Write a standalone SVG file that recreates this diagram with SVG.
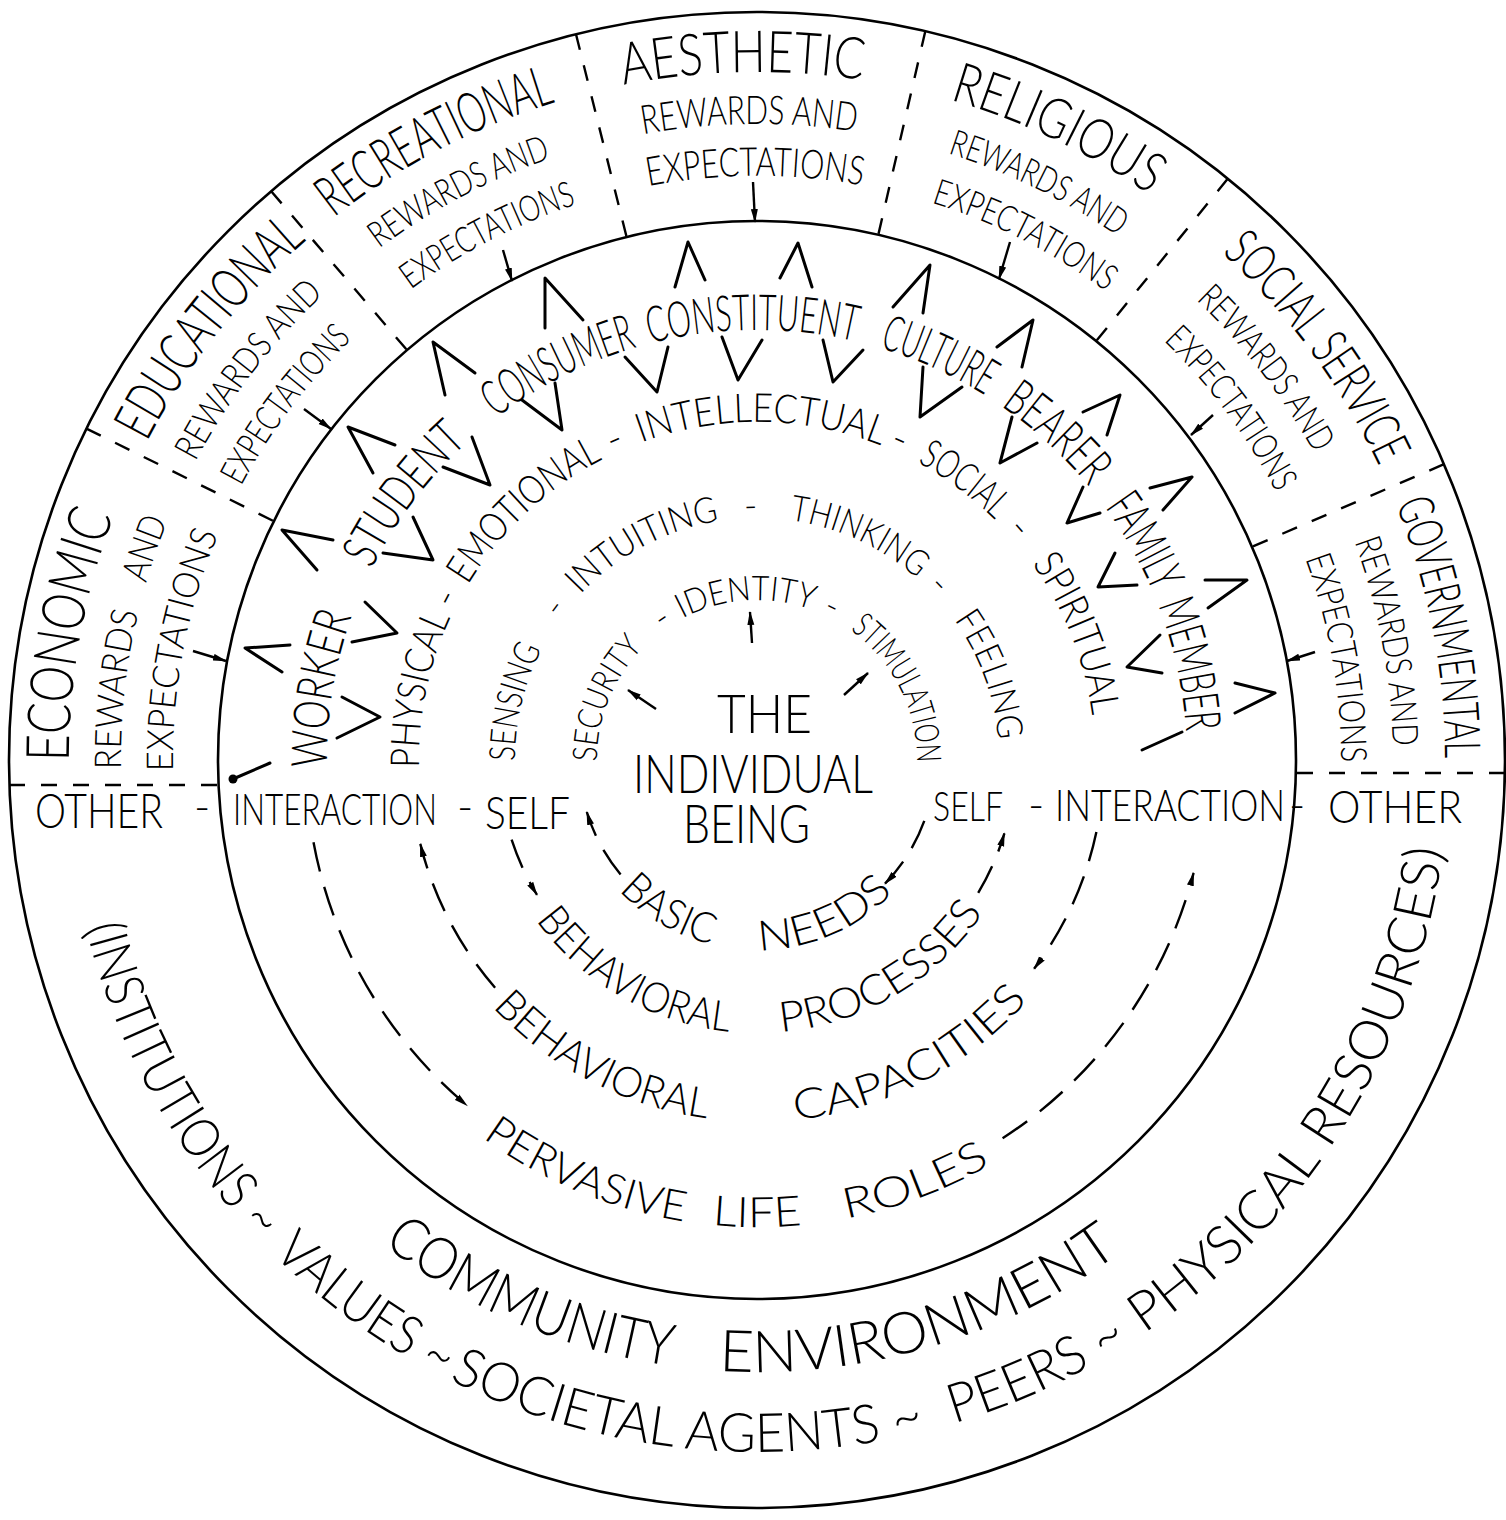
<svg xmlns="http://www.w3.org/2000/svg" width="1506" height="1520" viewBox="0 0 1506 1520">
<style>
.t{font-family:Lato,"Liberation Sans",Arial,sans-serif;font-weight:300;fill:#000}
.c{fill:none;stroke:#000;stroke-width:2.6}
.d{fill:none;stroke:#000;stroke-width:2.4;stroke-dasharray:16 16}
.da{fill:none;stroke:#000;stroke-width:2.4;stroke-dasharray:30 16;marker-end:url(#ah)}
.ch{fill:none;stroke:#000;stroke-width:3;stroke-linecap:round;stroke-linejoin:round}
.ar{fill:none;stroke:#000;stroke-width:2.4;marker-end:url(#ah)}
</style>
<defs>
<marker id="ah" viewBox="0 0 14 8" refX="13" refY="4" markerWidth="14" markerHeight="8" markerUnits="userSpaceOnUse" orient="auto"><path d="M0,0.5 L14,4 L0,7.5 z" fill="#000"/></marker>
<path id="t688" d="M161.2 1104 A688 688 0 1 1 1352.8 1104"/>
<path id="t636" d="M206.2 1078 A636 636 0 1 1 1307.8 1078"/>
<path id="t584" d="M251.3 1052 A584 584 0 1 1 1262.7 1052"/>
<path id="t430" d="M384.6 975 A430 430 0 1 1 1129.4 975"/>
<path id="t338" d="M464.3 929 A338 338 0 1 1 1049.7 929"/>
<path id="t242" d="M547.4 881 A242 242 0 1 1 966.6 881"/>
<path id="t160" d="M618.4 840 A160 160 0 1 1 895.6 840"/>
<path id="b190" d="M578.5 695 A190 190 0 1 0 935.5 695"/>
<path id="b273" d="M500.5 666.6 A273 273 0 1 0 1013.5 666.6"/>
<path id="b362" d="M416.8 636.2 A362 362 0 1 0 1097.2 636.2"/>
<path id="b467" d="M318.2 600.3 A467 467 0 1 0 1195.8 600.3"/>
<path id="b612" d="M181.9 550.7 A612 612 0 1 0 1332.1 550.7"/>
<path id="b692" d="M106.7 523.3 A692 692 0 1 0 1407.3 523.3"/>
</defs>

<g id="frame">
<circle class="c" cx="757" cy="760" r="748"/>
<circle class="c" cx="757" cy="760" r="539"/>
<line class="d" x1="9" y1="785" x2="218" y2="785"/>
<line class="d" x1="1505" y1="773" x2="1296" y2="773"/>
<line class="d" x1="86.4" y1="428.6" x2="273.8" y2="521.2"/>
<line class="d" x1="271.2" y1="191.2" x2="407" y2="350.1"/>
<line class="d" x1="576" y1="34.2" x2="626.6" y2="237"/>
<line class="d" x1="925.3" y1="31.2" x2="878.3" y2="234.8"/>
<line class="d" x1="1227.7" y1="178.7" x2="1096.2" y2="341.1"/>
<line class="d" x1="1444" y1="464.2" x2="1252" y2="546.8"/>
</g>

<g id="sector-economic" class="t">
<text font-size="60" text-anchor="middle"><textPath href="#t688" startOffset="483.9" textLength="250" lengthAdjust="spacingAndGlyphs">ECONOMIC</textPath></text>
<text font-size="37" text-anchor="middle"><textPath href="#t636" startOffset="402.9" textLength="158" lengthAdjust="spacingAndGlyphs">REWARDS</textPath></text>
<text font-size="37" text-anchor="middle"><textPath href="#t636" startOffset="545" textLength="66" lengthAdjust="spacingAndGlyphs">AND</textPath></text>
<text font-size="37" text-anchor="middle"><textPath href="#t584" startOffset="415.9" textLength="243" lengthAdjust="spacingAndGlyphs">EXPECTATIONS</textPath></text>
</g>
<g id="sector-educational" class="t">
<text font-size="56" text-anchor="middle"><textPath href="#t688" startOffset="820.1" textLength="259" lengthAdjust="spacingAndGlyphs">EDUCATIONAL</textPath></text>
<text font-size="36" text-anchor="middle"><textPath href="#t636" startOffset="749.3" textLength="212" lengthAdjust="spacingAndGlyphs">REWARDS AND</textPath></text>
<text font-size="36" text-anchor="middle"><textPath href="#t584" startOffset="682.9" textLength="185" lengthAdjust="spacingAndGlyphs">EXPECTATIONS</textPath></text>
</g>
<g id="sector-recreational" class="t">
<text font-size="56" text-anchor="middle"><textPath href="#t688" startOffset="1110.7" textLength="251" lengthAdjust="spacingAndGlyphs">RECREATIONAL</textPath></text>
<text font-size="36" text-anchor="middle"><textPath href="#t636" startOffset="1024.5" textLength="195" lengthAdjust="spacingAndGlyphs">REWARDS AND</textPath></text>
<text font-size="36" text-anchor="middle"><textPath href="#t584" startOffset="945.9" textLength="187" lengthAdjust="spacingAndGlyphs">EXPECTATIONS</textPath></text>
</g>
<g id="sector-aesthetic" class="t">
<text font-size="58" text-anchor="middle"><textPath href="#t688" startOffset="1426.5" textLength="240" lengthAdjust="spacingAndGlyphs">AESTHETIC</textPath></text>
<text font-size="40" text-anchor="middle"><textPath href="#t636" startOffset="1324.2" textLength="214" lengthAdjust="spacingAndGlyphs">REWARDS AND</textPath></text>
<text font-size="40" text-anchor="middle"><textPath href="#t584" startOffset="1221.1" textLength="215" lengthAdjust="spacingAndGlyphs">EXPECTATIONS</textPath></text>
</g>
<g id="sector-religious" class="t">
<text font-size="56" text-anchor="middle"><textPath href="#t688" startOffset="1747.2" textLength="222" lengthAdjust="spacingAndGlyphs">RELIGIOUS</textPath></text>
<text font-size="36" text-anchor="middle"><textPath href="#t636" startOffset="1620.6" textLength="190" lengthAdjust="spacingAndGlyphs">REWARDS AND</textPath></text>
<text font-size="36" text-anchor="middle"><textPath href="#t584" startOffset="1498.4" textLength="197" lengthAdjust="spacingAndGlyphs">EXPECTATIONS</textPath></text>
</g>
<g id="sector-social-service" class="t">
<text font-size="52" text-anchor="middle"><textPath href="#t688" startOffset="2084.6" textLength="267" lengthAdjust="spacingAndGlyphs">SOCIAL SERVICE</textPath></text>
<text font-size="36" text-anchor="middle"><textPath href="#t636" startOffset="1913.6" textLength="195" lengthAdjust="spacingAndGlyphs">REWARDS AND</textPath></text>
<text font-size="36" text-anchor="middle"><textPath href="#t584" startOffset="1767.5" textLength="190" lengthAdjust="spacingAndGlyphs">EXPECTATIONS</textPath></text>
</g>
<g id="sector-governmental" class="t">
<text font-size="50" text-anchor="middle"><textPath href="#t688" startOffset="2389.6" textLength="260" lengthAdjust="spacingAndGlyphs">GOVERNMENTAL</textPath></text>
<text font-size="36" text-anchor="middle"><textPath href="#t636" startOffset="2212.2" textLength="209" lengthAdjust="spacingAndGlyphs">REWARDS AND</textPath></text>
<text font-size="36" text-anchor="middle"><textPath href="#t584" startOffset="2038.6" textLength="208" lengthAdjust="spacingAndGlyphs">EXPECTATIONS</textPath></text>
</g>

<g id="roles" class="t" font-size="50" text-anchor="middle">
<text><textPath href="#t430" startOffset="294.6" textLength="154" lengthAdjust="spacingAndGlyphs">WORKER</textPath></text>
<text><textPath href="#t430" startOffset="502.8" textLength="160" lengthAdjust="spacingAndGlyphs">STUDENT</textPath></text>
<text><textPath href="#t430" startOffset="699.8" textLength="158" lengthAdjust="spacingAndGlyphs">CONSUMER</textPath></text>
<text><textPath href="#t430" startOffset="896.1" textLength="207" lengthAdjust="spacingAndGlyphs">CONSTITUENT</textPath></text>
<text><textPath href="#t430" startOffset="1082.6" textLength="116" lengthAdjust="spacingAndGlyphs">CULTURE</textPath></text>
<text><textPath href="#t430" startOffset="1219.6" textLength="120" lengthAdjust="spacingAndGlyphs">BEARER</textPath></text>
<text><textPath href="#t430" startOffset="1354.7" textLength="98" lengthAdjust="spacingAndGlyphs">FAMILY</textPath></text>
<text><textPath href="#t430" startOffset="1482.2" textLength="130" lengthAdjust="spacingAndGlyphs">MEMBER</textPath></text>
</g>

<g id="capacities" class="t" font-size="40" text-anchor="middle">
<text><textPath href="#t338" startOffset="246.6" textLength="155" lengthAdjust="spacingAndGlyphs">PHYSICAL</textPath></text>
<text><textPath href="#t338" startOffset="339.2">-</textPath></text>
<text><textPath href="#t338" startOffset="454.2" textLength="187" lengthAdjust="spacingAndGlyphs">EMOTIONAL</textPath></text>
<text><textPath href="#t338" startOffset="566.3">-</textPath></text>
<text><textPath href="#t338" startOffset="712" textLength="245" lengthAdjust="spacingAndGlyphs">INTELLECTUAL</textPath></text>
<text><textPath href="#t338" startOffset="849.5">-</textPath></text>
<text><textPath href="#t338" startOffset="923.2" textLength="97" lengthAdjust="spacingAndGlyphs">SOCIAL</textPath></text>
<text><textPath href="#t338" startOffset="994">-</textPath></text>
<text><textPath href="#t338" startOffset="1111.4" textLength="165" lengthAdjust="spacingAndGlyphs">SPIRITUAL</textPath></text>
</g>

<g id="processes" class="t" font-size="36" text-anchor="middle">
<text><textPath href="#t242" startOffset="183.7" textLength="116" lengthAdjust="spacingAndGlyphs">SENSING</textPath></text>
<text><textPath href="#t242" startOffset="283">-</textPath></text>
<text><textPath href="#t242" startOffset="388.6" textLength="160" lengthAdjust="spacingAndGlyphs">INTUITING</textPath></text>
<text><textPath href="#t242" startOffset="500.5">-</textPath></text>
<text><textPath href="#t242" startOffset="610.4" textLength="142" lengthAdjust="spacingAndGlyphs">THINKING</textPath></text>
<text><textPath href="#t242" startOffset="701.2">-</textPath></text>
<text><textPath href="#t242" startOffset="801.7" textLength="130" lengthAdjust="spacingAndGlyphs">FEELING</textPath></text>
</g>

<g id="needs" class="t" font-size="34" text-anchor="middle">
<text><textPath href="#t160" startOffset="145.2" textLength="126" lengthAdjust="spacingAndGlyphs">SECURITY</textPath></text>
<text><textPath href="#t160" startOffset="240.2">-</textPath></text>
<text><textPath href="#t160" startOffset="324" textLength="134" lengthAdjust="spacingAndGlyphs">IDENTITY</textPath></text>
<text><textPath href="#t160" startOffset="407.8">-</textPath></text>
<text><textPath href="#t160" startOffset="511.1" textLength="154" lengthAdjust="spacingAndGlyphs">STIMULATION</textPath></text>
</g>

<g id="center" class="t" font-size="53">
<text x="717" y="733" textLength="95" lengthAdjust="spacingAndGlyphs">THE</text>
<text x="633" y="793" textLength="240" lengthAdjust="spacingAndGlyphs">INDIVIDUAL</text>
<text x="683" y="843" textLength="127" lengthAdjust="spacingAndGlyphs">BEING</text>
</g>

<g id="interaction-axis" class="t">
<text x="35" y="828" font-size="48" textLength="128" lengthAdjust="spacingAndGlyphs">OTHER</text>
<text x="194" y="822" font-size="44">-</text>
<text x="233" y="825" font-size="44" textLength="204" lengthAdjust="spacingAndGlyphs">INTERACTION</text>
<text x="457" y="822" font-size="44">-</text>
<text x="485" y="829" font-size="46" textLength="85" lengthAdjust="spacingAndGlyphs">SELF</text>
<text x="933" y="821" font-size="42" textLength="70" lengthAdjust="spacingAndGlyphs">SELF</text>
<text x="1028" y="820" font-size="44">-</text>
<text x="1055" y="821" font-size="44" textLength="230" lengthAdjust="spacingAndGlyphs">INTERACTION</text>
<text x="1289" y="820" font-size="44">-</text>
<text x="1328" y="823" font-size="46" textLength="134" lengthAdjust="spacingAndGlyphs">OTHER</text>
</g>

<g id="bottom-labels" class="t" font-size="42" text-anchor="middle">
<text><textPath href="#b190" startOffset="264" textLength="108" lengthAdjust="spacingAndGlyphs">BASIC</textPath></text>
<text><textPath href="#b190" startOffset="441.7" textLength="150" lengthAdjust="spacingAndGlyphs">NEEDS</textPath></text>
<text><textPath href="#b273" startOffset="381.2" textLength="229" lengthAdjust="spacingAndGlyphs">BEHAVIORAL</textPath></text>
<text><textPath href="#b273" startOffset="669.4" textLength="243" lengthAdjust="spacingAndGlyphs">PROCESSES</textPath></text>
<text><textPath href="#b362" startOffset="521.2" textLength="246" lengthAdjust="spacingAndGlyphs">BEHAVIORAL</textPath></text>
<text><textPath href="#b362" startOffset="866.8" textLength="268" lengthAdjust="spacingAndGlyphs">CAPACITIES</textPath></text>
<text><textPath href="#b467" startOffset="713.2" textLength="220" lengthAdjust="spacingAndGlyphs">PERVASIVE</textPath></text>
<text><textPath href="#b467" startOffset="896.6" textLength="90" lengthAdjust="spacingAndGlyphs">LIFE</textPath></text>
<text><textPath href="#b467" startOffset="1063.7" textLength="155" lengthAdjust="spacingAndGlyphs">ROLES</textPath></text>
</g>

<g id="community" class="t" text-anchor="middle">
<text font-size="58"><textPath href="#b612" startOffset="930.3" textLength="316" lengthAdjust="spacingAndGlyphs">COMMUNITY</textPath></text>
<text font-size="58"><textPath href="#b612" startOffset="1350.1" textLength="427" lengthAdjust="spacingAndGlyphs">ENVIRONMENT</textPath></text>
<text font-size="54"><textPath href="#b692" startOffset="591.8" textLength="362" lengthAdjust="spacingAndGlyphs">(INSTITUTIONS ~</textPath></text>
<text font-size="54"><textPath href="#b692" startOffset="897.4" textLength="211" lengthAdjust="spacingAndGlyphs">VALUES ~</textPath></text>
<text font-size="54"><textPath href="#b692" startOffset="1253.7" textLength="489" lengthAdjust="spacingAndGlyphs">SOCIETAL AGENTS ~</textPath></text>
<text font-size="54"><textPath href="#b692" startOffset="1624.5" textLength="193" lengthAdjust="spacingAndGlyphs">PEERS ~</textPath></text>
<text font-size="54"><textPath href="#b692" startOffset="2032.1" textLength="586" lengthAdjust="spacingAndGlyphs">PHYSICAL RESOURCES)</textPath></text>
</g>

<g id="chevrons">
<polyline class="ch" points="317,570 282,530 333,540"/>
<polyline class="ch" points="365,602 397,633 352,642"/>
<polyline class="ch" points="282,672 245,648 290,645"/>
<polyline class="ch" points="342,697 380,717 337,738"/>
<polyline class="ch" points="373,473 348,427 395,445"/>
<polyline class="ch" points="413,517 433,560 383,553"/>
<polyline class="ch" points="445,395 433,342 475,373"/>
<polyline class="ch" points="472,437 490,485 443,467"/>
<polyline class="ch" points="545,328 545,278 583,320"/>
<polyline class="ch" points="555,383 562,430 522,400"/>
<polyline class="ch" points="675,287 688,242 705,280"/>
<polyline class="ch" points="668,347 657,392 625,357"/>
<polyline class="ch" points="722,337 738,380 762,340"/>
<polyline class="ch" points="780,278 798,243 812,287"/>
<polyline class="ch" points="823,340 833,382 863,350"/>
<polyline class="ch" points="923,313 930,265 893,307"/>
<polyline class="ch" points="923,367 920,417 962,387"/>
<polyline class="ch" points="1022,367 1033,320 997,347"/>
<polyline class="ch" points="1012,417 1000,463 1037,443"/>
<polyline class="ch" points="1107,435 1120,395 1083,412"/>
<polyline class="ch" points="1083,487 1067,523 1100,513"/>
<polyline class="ch" points="1163,510 1192,477 1150,488"/>
<polyline class="ch" points="1115,553 1098,587 1137,585"/>
<polyline class="ch" points="1208,608 1247,580 1205,580"/>
<polyline class="ch" points="1160,635 1127,667 1162,673"/>
<polyline class="ch" points="1235,713 1275,693 1235,683"/>
<line class="ch" x1="233" y1="779" x2="270" y2="763"/>
<circle cx="233" cy="779" r="4.5" fill="#000"/>
<line class="ch" x1="1142" y1="750" x2="1182" y2="732"/>
</g>

<g id="connectors">
<line class="ar" x1="193" y1="651" x2="226" y2="661"/>
<line class="ar" x1="304" y1="409" x2="331" y2="429"/>
<line class="ar" x1="503" y1="250" x2="512" y2="281"/>
<line class="ar" x1="753" y1="182" x2="755" y2="222"/>
<line class="ar" x1="1010" y1="242" x2="999" y2="279"/>
<line class="ar" x1="1213" y1="415" x2="1191" y2="435"/>
<line class="ar" x1="1315" y1="652" x2="1287" y2="661"/>
<line class="ar" x1="752" y1="643" x2="750" y2="612"/>
<line class="ar" x1="656" y1="709" x2="628" y2="690"/>
<line class="ar" x1="844" y1="695" x2="868" y2="673"/>
<path class="da" d="M924.3 820.9 A178 178 0 0 1 885 883.7"/>
<path class="da" d="M620.6 874.4 A178 178 0 0 1 586.8 812"/>
<path class="da" d="M511.6 839.7 A258 258 0 0 0 537 894.8"/>
<path class="da" d="M978.2 892.9 A258 258 0 0 0 1004.4 833.3"/>
<path class="da" d="M495.1 987.7 A347 347 0 0 1 420.3 843.9"/>
<path class="da" d="M1096.4 832.1 A347 347 0 0 1 1034.1 968.8"/>
<path class="da" d="M313.5 842.2 A451 451 0 0 0 467.1 1105.5"/>
<path class="da" d="M1002.6 1138.3 A451 451 0 0 0 1193.6 872.9"/>
</g>
</svg>
